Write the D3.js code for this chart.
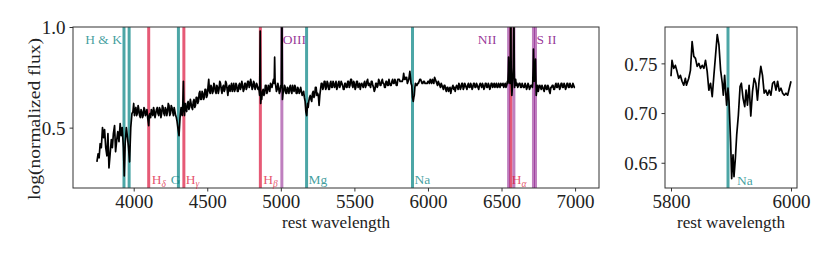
<!DOCTYPE html>
<html>
<head>
<meta charset="utf-8">
<script src="https://d3js.org/d3.v7.min.js"></script>
<style>
body, html { margin: 0; padding: 0; background: white; overflow: hidden; }
svg, svg text { font-family: "Liberation Serif", "DejaVu Serif", serif; }
.tick text { fill: #222; }
</style>
</head>
<body>
<div id="chart"></div>
<script>
// spectrum: [rest wavelength, log(normalized flux)]
const mainSpectrum = [
  [3750,0.33],[3758,0.37],[3765,0.35],[3772,0.42],[3780,0.40],[3788,0.50],[3795,0.45],[3802,0.49],
  [3810,0.40],[3818,0.36],[3825,0.47],[3832,0.30],[3840,0.37],[3848,0.44],[3855,0.40],[3862,0.47],
  [3870,0.51],[3877,0.38],[3885,0.44],[3892,0.48],[3900,0.43],[3908,0.52],[3915,0.46],[3922,0.50],
  [3930,0.40],[3936,0.26],[3942,0.42],[3950,0.50],[3958,0.45],[3965,0.40],[3972,0.33],[3980,0.50],
  [3988,0.57],[3995,0.58],[4000,0.62],[4005,0.56],[4010,0.59],[4015,0.60],[4020,0.56],[4025,0.57],
  [4030,0.61],[4035,0.59],[4040,0.56],[4045,0.55],[4050,0.59],[4055,0.58],[4060,0.55],[4065,0.56],
  [4070,0.60],[4075,0.59],[4080,0.56],[4085,0.57],[4090,0.59],[4095,0.55],[4102,0.51],[4106,0.56],
  [4110,0.57],[4115,0.55],[4120,0.59],[4125,0.57],[4130,0.56],[4135,0.60],[4140,0.58],[4145,0.55],
  [4150,0.57],[4155,0.59],[4160,0.60],[4165,0.57],[4170,0.56],[4175,0.60],[4180,0.59],[4185,0.55],
  [4190,0.57],[4195,0.61],[4200,0.60],[4205,0.57],[4210,0.56],[4215,0.60],[4220,0.59],[4225,0.56],
  [4230,0.58],[4235,0.62],[4240,0.61],[4245,0.56],[4250,0.57],[4255,0.61],[4260,0.60],[4265,0.58],
  [4270,0.56],[4275,0.60],[4280,0.58],[4285,0.56],[4290,0.55],[4295,0.53],[4300,0.50],[4308,0.46],
  [4315,0.55],[4322,0.60],[4326,0.57],[4330,0.56],[4334,0.62],[4338,0.73],[4341,0.60],[4345,0.56],
  [4350,0.62],[4355,0.59],[4360,0.58],[4365,0.62],[4370,0.63],[4375,0.59],[4380,0.60],[4385,0.64],
  [4390,0.62],[4395,0.60],[4400,0.59],[4405,0.63],[4410,0.64],[4415,0.60],[4420,0.61],[4425,0.65],
  [4430,0.65],[4435,0.62],[4440,0.63],[4445,0.67],[4450,0.68],[4455,0.64],[4460,0.64],[4465,0.68],
  [4470,0.67],[4475,0.64],[4480,0.65],[4485,0.69],[4490,0.69],[4495,0.65],[4500,0.66],[4505,0.70],
  [4510,0.74],[4515,0.68],[4520,0.67],[4525,0.71],[4530,0.70],[4535,0.67],[4540,0.68],[4545,0.72],
  [4550,0.71],[4555,0.68],[4560,0.67],[4565,0.71],[4570,0.70],[4575,0.67],[4580,0.69],[4585,0.73],
  [4590,0.72],[4595,0.69],[4600,0.67],[4605,0.70],[4610,0.71],[4615,0.68],[4620,0.69],[4625,0.73],
  [4630,0.72],[4635,0.69],[4640,0.66],[4645,0.70],[4650,0.71],[4655,0.68],[4660,0.70],[4665,0.72],
  [4670,0.68],[4675,0.70],[4680,0.72],[4685,0.68],[4690,0.69],[4695,0.72],[4700,0.71],[4705,0.68],
  [4710,0.68],[4715,0.71],[4720,0.72],[4725,0.69],[4730,0.70],[4735,0.73],[4740,0.71],[4745,0.68],
  [4750,0.69],[4755,0.72],[4760,0.72],[4765,0.69],[4770,0.70],[4775,0.73],[4780,0.73],[4785,0.70],
  [4790,0.71],[4795,0.74],[4800,0.72],[4805,0.69],[4810,0.70],[4815,0.73],[4820,0.72],[4825,0.69],
  [4830,0.70],[4835,0.72],[4840,0.71],[4845,0.69],[4850,0.70],[4856,0.66],[4860,0.98],[4863,0.62],
  [4867,0.66],[4870,0.64],[4875,0.68],[4880,0.69],[4885,0.66],[4890,0.67],[4895,0.71],[4900,0.71],
  [4905,0.67],[4910,0.68],[4915,0.71],[4920,0.70],[4925,0.68],[4930,0.72],[4935,0.71],[4940,0.70],
  [4945,0.72],[4950,0.74],[4955,0.72],[4958,0.85],[4961,0.73],[4965,0.71],[4970,0.68],[4975,0.69],
  [4980,0.72],[4985,0.70],[4990,0.67],[4995,0.68],[5000,0.71],[5003,0.70],[5007,1.20],[5011,0.64],
  [5015,0.67],[5020,0.68],[5025,0.71],[5030,0.70],[5035,0.67],[5040,0.67],[5045,0.70],[5050,0.69],
  [5055,0.67],[5060,0.70],[5065,0.71],[5070,0.68],[5075,0.67],[5080,0.71],[5085,0.69],[5090,0.68],
  [5095,0.71],[5100,0.70],[5105,0.67],[5110,0.67],[5115,0.70],[5120,0.69],[5125,0.67],[5130,0.68],
  [5135,0.70],[5140,0.68],[5145,0.66],[5150,0.67],[5155,0.68],[5160,0.65],[5165,0.63],[5170,0.58],
  [5176,0.56],[5182,0.62],[5186,0.60],[5190,0.63],[5195,0.65],[5200,0.66],[5205,0.64],[5210,0.63],
  [5215,0.67],[5220,0.68],[5225,0.65],[5230,0.66],[5235,0.70],[5240,0.70],[5245,0.66],[5250,0.67],
  [5255,0.66],[5260,0.61],[5265,0.66],[5270,0.69],[5275,0.72],[5280,0.72],[5285,0.69],[5290,0.70],
  [5295,0.73],[5300,0.73],[5305,0.69],[5310,0.70],[5315,0.73],[5320,0.72],[5325,0.69],[5330,0.69],
  [5335,0.72],[5340,0.73],[5345,0.70],[5350,0.70],[5355,0.73],[5360,0.72],[5365,0.70],[5370,0.71],
  [5375,0.73],[5380,0.69],[5385,0.70],[5390,0.72],[5395,0.73],[5400,0.70],[5405,0.71],[5410,0.73],
  [5415,0.72],[5420,0.71],[5425,0.69],[5430,0.69],[5435,0.72],[5440,0.72],[5445,0.70],[5450,0.70],
  [5455,0.73],[5460,0.73],[5465,0.70],[5470,0.71],[5475,0.74],[5480,0.74],[5485,0.71],[5490,0.70],
  [5495,0.73],[5500,0.72],[5505,0.69],[5510,0.70],[5515,0.73],[5520,0.73],[5525,0.70],[5530,0.71],
  [5535,0.72],[5540,0.69],[5545,0.71],[5550,0.72],[5555,0.71],[5560,0.70],[5565,0.72],[5570,0.73],
  [5575,0.70],[5580,0.71],[5585,0.73],[5590,0.74],[5595,0.71],[5600,0.72],[5605,0.71],[5610,0.70],
  [5615,0.73],[5620,0.73],[5625,0.71],[5630,0.70],[5635,0.68],[5640,0.69],[5645,0.72],[5650,0.72],
  [5655,0.70],[5660,0.71],[5665,0.74],[5670,0.73],[5675,0.71],[5680,0.71],[5685,0.73],[5690,0.74],
  [5695,0.72],[5700,0.72],[5705,0.70],[5710,0.70],[5715,0.73],[5720,0.73],[5725,0.71],[5730,0.71],
  [5735,0.74],[5740,0.72],[5745,0.71],[5750,0.71],[5755,0.73],[5760,0.74],[5765,0.72],[5770,0.72],
  [5775,0.74],[5780,0.73],[5785,0.71],[5790,0.71],[5795,0.74],[5800,0.74],[5805,0.74],[5810,0.73],
  [5815,0.73],[5820,0.73],[5825,0.73],[5830,0.74],[5835,0.77],[5840,0.74],[5845,0.75],[5850,0.74],
  [5855,0.75],[5860,0.72],[5865,0.73],[5870,0.74],[5877,0.78],[5881,0.75],[5885,0.72],[5890,0.71],
  [5895,0.65],[5900,0.63],[5904,0.65],[5907,0.66],[5911,0.70],[5915,0.72],[5920,0.71],[5925,0.71],
  [5930,0.72],[5935,0.72],[5940,0.73],[5945,0.74],[5950,0.74],[5955,0.73],[5960,0.72],[5965,0.72],
  [5970,0.73],[5975,0.73],[5980,0.72],[5985,0.72],[5990,0.72],[5995,0.72],[6000,0.73],[6005,0.73],
  [6010,0.72],[6015,0.74],[6020,0.73],[6025,0.72],[6030,0.74],[6035,0.73],[6040,0.72],[6045,0.75],
  [6050,0.74],[6055,0.73],[6060,0.72],[6065,0.71],[6070,0.73],[6075,0.72],[6080,0.71],[6085,0.70],
  [6090,0.72],[6095,0.71],[6100,0.70],[6105,0.69],[6110,0.71],[6115,0.71],[6120,0.69],[6125,0.68],
  [6130,0.70],[6135,0.70],[6140,0.68],[6145,0.69],[6150,0.70],[6155,0.67],[6160,0.69],[6165,0.70],
  [6170,0.71],[6175,0.69],[6180,0.70],[6185,0.68],[6190,0.70],[6195,0.71],[6200,0.70],[6205,0.69],
  [6210,0.72],[6215,0.71],[6220,0.69],[6225,0.70],[6230,0.72],[6235,0.72],[6240,0.69],[6245,0.70],
  [6250,0.72],[6255,0.71],[6260,0.70],[6265,0.69],[6270,0.71],[6275,0.72],[6280,0.70],[6285,0.70],
  [6290,0.72],[6295,0.71],[6300,0.69],[6305,0.70],[6310,0.72],[6315,0.72],[6320,0.70],[6325,0.70],
  [6330,0.72],[6335,0.71],[6340,0.70],[6345,0.69],[6350,0.71],[6355,0.72],[6360,0.71],[6365,0.70],
  [6370,0.72],[6375,0.71],[6380,0.69],[6385,0.70],[6390,0.72],[6395,0.72],[6400,0.70],[6405,0.70],
  [6410,0.72],[6415,0.71],[6420,0.69],[6425,0.70],[6430,0.72],[6435,0.72],[6440,0.70],[6445,0.71],
  [6450,0.72],[6455,0.70],[6460,0.71],[6465,0.72],[6470,0.70],[6475,0.70],[6480,0.72],[6485,0.71],
  [6490,0.70],[6495,0.72],[6500,0.71],[6505,0.71],[6510,0.72],[6515,0.70],[6520,0.71],[6525,0.72],
  [6530,0.70],[6535,0.71],[6540,0.73],[6543,0.72],[6546,0.78],[6548,0.85],[6551,0.76],[6553,0.73],
  [6558,0.72],[6561,0.85],[6563,1.30],[6565,0.85],[6567,0.72],[6570,0.66],[6572,0.68],[6576,0.74],
  [6580,0.80],[6584,1.10],[6587,0.78],[6589,0.70],[6593,0.73],[6596,0.74],[6600,0.71],[6605,0.72],
  [6610,0.70],[6615,0.71],[6620,0.72],[6625,0.72],[6630,0.70],[6635,0.70],[6640,0.72],[6645,0.71],
  [6650,0.70],[6655,0.70],[6660,0.72],[6665,0.71],[6670,0.69],[6675,0.70],[6680,0.72],[6685,0.71],
  [6690,0.69],[6695,0.70],[6700,0.71],[6705,0.71],[6710,0.70],[6712,0.72],[6715,0.80],[6717,0.89],
  [6720,0.78],[6722,0.73],[6726,0.75],[6729,0.80],[6731,0.84],[6733,0.76],[6736,0.66],[6739,0.68],
  [6742,0.70],[6746,0.71],[6750,0.68],[6755,0.70],[6760,0.71],[6765,0.70],[6770,0.69],[6775,0.71],
  [6780,0.70],[6785,0.69],[6790,0.68],[6795,0.71],[6800,0.71],[6805,0.69],[6810,0.69],[6815,0.71],
  [6820,0.70],[6825,0.68],[6830,0.67],[6835,0.70],[6840,0.70],[6845,0.71],[6850,0.71],[6855,0.69],
  [6860,0.69],[6865,0.71],[6870,0.72],[6875,0.70],[6880,0.70],[6885,0.72],[6890,0.71],[6895,0.69],
  [6900,0.70],[6905,0.72],[6910,0.72],[6915,0.70],[6920,0.70],[6925,0.72],[6930,0.71],[6935,0.69],
  [6940,0.70],[6945,0.72],[6950,0.72],[6955,0.70],[6960,0.70],[6965,0.72],[6970,0.71],[6975,0.70],
  [6980,0.70],[6985,0.72],[6990,0.71],[6995,0.70],[7000,0.70]
];

// zoom on the Na D region
const insetSpectrum = [
  [5800,0.737],[5801.7,0.753],[5804.5,0.745],[5807.3,0.748],[5810,0.742],[5812.8,0.735],[5815.6,0.738],
  [5818.4,0.732],[5821.2,0.728],[5824,0.735],[5825.7,0.728],[5829.6,0.735],[5832.4,0.743],[5835.2,0.772],
  [5838,0.757],[5840.8,0.755],[5843.6,0.747],[5846.4,0.750],[5849.2,0.745],[5852,0.748],[5854.8,0.745],
  [5857.5,0.753],[5860.3,0.742],[5863.1,0.723],[5865.9,0.730],[5868.7,0.7165],[5871.5,0.738],[5874.3,0.7585],
  [5877.1,0.779],[5879.9,0.7685],[5882.7,0.743],[5885.5,0.730],[5887.2,0.718],[5889.4,0.738],[5891.1,0.722],
  [5892.7,0.708],[5895,0.725],[5896.7,0.7115],[5899.4,0.671],[5901.1,0.634],[5903.4,0.658],[5905,0.636],
  [5907.3,0.6545],[5909.5,0.678],[5912.3,0.698],[5915.1,0.7266],[5917.3,0.730],[5920.1,0.7148],[5922.9,0.7065],
  [5925.1,0.7232],[5927.4,0.708],[5930.2,0.728],[5933,0.697],[5935.8,0.7215],[5938.6,0.735],[5941.4,0.730],
  [5944.1,0.713],[5946.9,0.733],[5949.7,0.747],[5952.5,0.738],[5955.3,0.720],[5958.1,0.723],[5960.9,0.718],
  [5963.7,0.723],[5966.5,0.718],[5969.3,0.730],[5972.1,0.7316],[5974.9,0.723],[5977.7,0.732],[5980.5,0.722],
  [5983.3,0.725],[5986.1,0.720],[5988.8,0.718],[5991.6,0.720],[5994.4,0.718],[5997.2,0.725],[6000,0.732]
];

// feature lines (rest wavelengths)
const absorptionWaves = [3934, 3969, 4304, 5175, 5895];
const balmerWaves = [4102, 4341, 4861, 6563];
const nebularWaves = [5007, 6548, 6584, 6717, 6731];

const labelText = ["H & K", "H|δ", "G", "H|γ", "H|β", "OIII", "Mg", "Na", "NII", "H|α", "S II"];
const labelWave = [3934, 4102, 4304, 4341, 4861, 5007, 5175, 5895, 6548, 6563, 6731];
const labelGroup = ["abs", "balmer", "abs", "balmer", "balmer", "neb", "abs", "abs", "neb", "balmer", "neb"];

const mainXTicks = [4000, 4500, 5000, 5500, 6000, 6500, 7000];
const mainYTicks = [0.5, 1.0];
const insetXTicks = [5800, 6000];
const insetYTicks = [0.65, 0.70, 0.75];

const W = 830, H = 256;
const FONT = '"Liberation Serif", "DejaVu Serif", serif';
const lineColor = { abs: "rgba(0,128,128,0.7)", balmer: "rgba(220,20,60,0.7)", neb: "rgba(128,0,128,0.5)" };
const textColor = { abs: "rgba(0,128,128,0.75)", balmer: "rgba(220,20,60,0.75)", neb: "rgba(128,0,128,0.8)" };

// label placement: [dx from line, anchor, row]
const labelLayout = {
  "H & K": [-2, "end", "top"], "H|δ": [3, "start", "bot"], "G": [2, "end", "bot"],
  "H|γ": [2, "start", "bot"], "H|β": [3, "start", "bot"], "OIII": [1, "start", "top"],
  "Mg": [2, "start", "bot"], "Na": [2, "start", "bot"], "NII": [-12, "end", "top"],
  "H|α": [1, "start", "bot"], "S II": [1, "start", "top"]
};

const svg = d3.select("#chart").append("svg").attr("width", W).attr("height", H)
  .attr("font-family", FONT);

function panel(box, xdom, ydom, xt, yt, yfmt) {
  const x = d3.scaleLinear().domain(xdom).range([box.l, box.r]);
  const y = d3.scaleLinear().domain(ydom).range([box.b, box.t]);
  const g = svg.append("g");
  const id = "clip" + Math.round(box.l);
  svg.append("clipPath").attr("id", id).append("rect")
    .attr("x", box.l).attr("y", box.t).attr("width", box.r - box.l).attr("height", box.b - box.t);
  const plot = g.append("g").attr("clip-path", "url(#" + id + ")");

  g.append("g").attr("transform", "translate(0," + box.b + ")")
    .call(d3.axisBottom(x).tickValues(xt).tickSize(3.5).tickPadding(2).tickFormat(d3.format("d")))
    .attr("font-family", FONT)
    .call(a => a.select(".domain").remove())
    .call(a => a.selectAll("line").attr("stroke", "#333"))
    .call(a => a.selectAll("text").attr("font-size", 19).attr("dy", "0.78em"));
  g.append("g").attr("transform", "translate(" + box.l + ",0)")
    .call(d3.axisLeft(y).tickValues(yt).tickSize(3.5).tickPadding(4).tickFormat(d3.format(yfmt)))
    .attr("font-family", FONT)
    .call(a => a.select(".domain").remove())
    .call(a => a.selectAll("line").attr("stroke", "#333"))
    .call(a => a.selectAll("text").attr("font-size", 19).attr("dy", "0.36em"));

  g.append("rect").attr("x", box.l).attr("y", box.t)
    .attr("width", box.r - box.l).attr("height", box.b - box.t)
    .attr("fill", "none").attr("stroke", "#333").attr("stroke-width", 1);

  g.append("text").attr("x", (box.l + box.r) / 2).attr("y", 228)
    .attr("text-anchor", "middle").attr("font-size", 16.5).attr("fill", "#222")
    .attr("textLength", 108).attr("lengthAdjust", "spacingAndGlyphs")
    .text("rest wavelength");
  return { x, y, plot, g };
}

// main panel
const m = panel({ l: 73, r: 599, t: 27, b: 188 }, [3587.5, 7162.5], [0.2, 1.0], mainXTicks, mainYTicks, ".1f");

[[absorptionWaves, "abs"], [balmerWaves, "balmer"], [nebularWaves, "neb"]].forEach(([ws, k]) => {
  m.plot.selectAll(null).data(ws).enter().append("line")
    .attr("x1", d => m.x(d)).attr("x2", d => m.x(d))
    .attr("y1", m.y(0.2)).attr("y2", m.y(1.0))
    .attr("stroke", lineColor[k]).attr("stroke-width", 3);
});

const line = d3.line().x(d => m.x(d[0])).y(d => m.y(d[1]));
m.plot.append("path").datum(mainSpectrum).attr("d", line)
  .attr("fill", "none").attr("stroke", "#000").attr("stroke-width", 1.7).attr("stroke-linejoin", "round");

labelText.forEach((t, i) => {
  const [dx, anchor, row] = labelLayout[t];
  const txt = m.g.append("text")
    .attr("x", m.x(labelWave[i]) + dx).attr("y", row === "top" ? 44 : 184)
    .attr("text-anchor", anchor).attr("font-size", 13.5).attr("fill", textColor[labelGroup[i]]);
  const parts = t.split("|");
  txt.append("tspan").text(parts[0]);
  if (parts[1]) txt.append("tspan").attr("font-size", 9.5).attr("font-style", "italic").attr("dy", 2.5).text(parts[1]);
});

svg.append("text").attr("transform", "translate(40,119) rotate(-90)")
  .attr("text-anchor", "middle").attr("font-size", 16.5).attr("fill", "#222")
  .attr("textLength", 162).attr("lengthAdjust", "spacingAndGlyphs")
  .text("log(normalized flux)");

// inset panel
const n = panel({ l: 665, r: 797, t: 27, b: 188 }, [5790, 6010], [0.6246, 0.7866], insetXTicks, insetYTicks, ".2f");
n.plot.append("line")
  .attr("x1", n.x(5895)).attr("x2", n.x(5895)).attr("y1", 188).attr("y2", 27)
  .attr("stroke", lineColor.abs).attr("stroke-width", 3);
const line2 = d3.line().x(d => n.x(d[0])).y(d => n.y(d[1]));
n.plot.append("path").datum(insetSpectrum).attr("d", line2)
  .attr("fill", "none").attr("stroke", "#000").attr("stroke-width", 1.7).attr("stroke-linejoin", "round");
n.g.append("text").attr("x", n.x(5895) + 9).attr("y", 185)
  .attr("font-size", 13.5).attr("fill", textColor.abs).text("Na");
</script>
</body>
</html>
